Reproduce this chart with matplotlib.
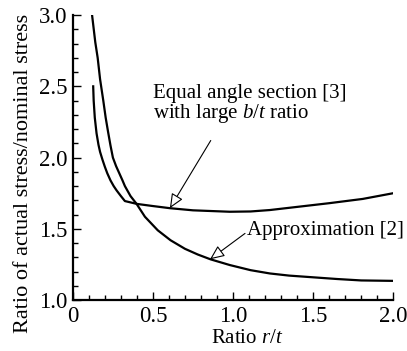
import matplotlib.pyplot as plt
from matplotlib.ticker import MultipleLocator, FuncFormatter

plt.rcParams["font.family"] = "Liberation Serif"
plt.rcParams["font.size"] = 15
plt.rcParams["mathtext.fontset"] = "custom"
plt.rcParams["mathtext.rm"] = "Liberation Serif"
plt.rcParams["mathtext.it"] = "Liberation Serif:italic"

# Approximation [2]
approx_x = [0.12, 0.14, 0.155, 0.17, 0.19, 0.205, 0.22, 0.235, 0.25, 0.27, 0.29,
            0.31, 0.325, 0.36, 0.398, 0.45, 0.53, 0.61, 0.70, 0.78, 0.86, 0.98,
            1.11, 1.23, 1.35, 1.50, 1.65, 1.80, 2.00]
approx_y = [3.00, 2.81, 2.70, 2.55, 2.40, 2.28, 2.18, 2.085, 2.00, 1.94, 1.89,
            1.84, 1.80, 1.73, 1.675, 1.585, 1.49, 1.42, 1.36, 1.32, 1.286, 1.246,
            1.21, 1.187, 1.172, 1.16, 1.148, 1.138, 1.135]

# Equal angle section [3], large b/t
angle_x = [0.127, 0.13, 0.137, 0.148, 0.16, 0.17, 0.185, 0.20, 0.215, 0.235,
           0.255, 0.273, 0.30, 0.325, 0.40, 0.50, 0.606, 0.75, 0.98, 1.11,
           1.23, 1.50, 1.60, 1.81, 2.00]
angle_y = [2.50, 2.40, 2.28, 2.17, 2.09, 2.04, 1.985, 1.935, 1.89, 1.84,
           1.80, 1.77, 1.73, 1.695, 1.675, 1.66, 1.645, 1.63, 1.62, 1.622,
           1.632, 1.667, 1.68, 1.71, 1.75]

fig = plt.figure(figsize=(4.07, 3.51), dpi=100)
ax = fig.add_axes([0.179, 0.145, 0.787, 0.812])

ax.plot(approx_x, approx_y, color="black", lw=1.6)
ax.plot(angle_x, angle_y, color="black", lw=1.6)

ax.set_xlim(0, 2.0)
ax.set_ylim(1.0, 3.0)
ax.xaxis.set_major_locator(MultipleLocator(0.5))
ax.xaxis.set_minor_locator(MultipleLocator(0.1))
ax.yaxis.set_major_locator(MultipleLocator(0.5))
ax.yaxis.set_minor_locator(MultipleLocator(0.1))
ax.xaxis.set_major_formatter(FuncFormatter(lambda v, p: "0" if v == 0 else f"{v:.1f}"))
ax.yaxis.set_major_formatter(FuncFormatter(lambda v, p: f"{v:.1f}"))

for s in ["top", "right"]:
    ax.spines[s].set_visible(False)
for s in ["left", "bottom"]:
    ax.spines[s].set_linewidth(1.6)
ax.tick_params(which="both", direction="in", width=1.0)
ax.tick_params(which="major", length=6, pad=4, labelsize=16.5)
ax.tick_params(which="minor", length=3.5)

ax.set_xlabel("Ratio $\\mathit{r/t}$")
ax.xaxis.set_label_coords(0.544, -0.1)
ax.set_ylabel("Ratio of actual stress/nominal stress", fontsize=16)
ax.yaxis.set_label_coords(-0.125, 0.446)

arrow = dict(arrowstyle="-|>,head_length=0.8,head_width=0.35", fc="white",
             ec="black", lw=0.8, mutation_scale=11, shrinkA=0, shrinkB=0)

ax.text(0.498, 2.415, "Equal angle section [3]", va="baseline", ha="left")
ax.text(0.498, 2.275, "with large $\\mathit{b/t}$ ratio", va="baseline", ha="left")
ax.annotate("", xy=(0.606, 1.645), xytext=(0.861, 2.12), arrowprops=arrow)

ax.text(1.086, 1.455, "Approximation [2]", va="baseline", ha="left")
ax.annotate("", xy=(0.856, 1.286), xytext=(1.075, 1.468), arrowprops=arrow)

fig.savefig("out.png", dpi=100)
